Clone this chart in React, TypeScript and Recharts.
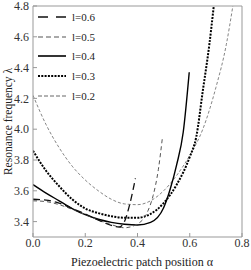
import React from 'react'
import { LineChart, Line, XAxis, YAxis, Legend, Label } from 'recharts'

// patch position alpha and resonance frequency lambda, one pair per patch length l
const alpha06 = [0, 0.05, 0.1, 0.15, 0.2, 0.25, 0.3, 0.33, 0.35, 0.37, 0.392]
const lambda06 = [3.545, 3.54, 3.52, 3.485, 3.45, 3.41, 3.375, 3.365, 3.4, 3.51, 3.68]

const alpha05 = [0, 0.05, 0.1, 0.15, 0.2, 0.25, 0.3, 0.35, 0.4, 0.44, 0.46, 0.48, 0.495]
const lambda05 = [3.535, 3.53, 3.51, 3.48, 3.445, 3.41, 3.38, 3.36, 3.385, 3.47, 3.57, 3.74, 3.94]

const alpha04 = [0, 0.05, 0.1, 0.15, 0.2, 0.25, 0.3, 0.35, 0.4, 0.45, 0.5, 0.525, 0.55, 0.575, 0.598]
const lambda04 = [3.64, 3.585, 3.535, 3.485, 3.445, 3.415, 3.395, 3.383, 3.378, 3.395, 3.49, 3.61, 3.77, 3.98, 4.37]

const alpha03 = [0, 0.05, 0.1, 0.15, 0.2, 0.25, 0.3, 0.35, 0.4, 0.45, 0.5, 0.55, 0.6, 0.625, 0.65, 0.675, 0.692]
const lambda03 = [3.86, 3.73, 3.63, 3.545, 3.485, 3.455, 3.435, 3.425, 3.425, 3.45, 3.52, 3.64, 3.82, 3.95, 4.25, 4.55, 4.8]

const alpha02 = [0, 0.05, 0.1, 0.15, 0.2, 0.25, 0.3, 0.35, 0.4, 0.45, 0.5, 0.55, 0.6, 0.65, 0.7, 0.74, 0.765]
const lambda02 = [4.22, 4.03, 3.88, 3.76, 3.67, 3.6, 3.545, 3.515, 3.51, 3.535, 3.6, 3.7, 3.83, 4.0, 4.27, 4.55, 4.8]

const xTicks = [0, 0.2, 0.4, 0.6, 0.8]
const xMinorTicks = [0.05, 0.1, 0.15, 0.25, 0.3, 0.35, 0.45, 0.5, 0.55, 0.65, 0.7, 0.75]
const yTicks = [3.4, 3.6, 3.8, 4.0, 4.2, 4.4, 4.6, 4.8]
const yMinorTicks = [3.3, 3.5, 3.7, 3.9, 4.1, 4.3, 4.5, 4.7]

const zip = (xs: number[], ys: number[]) => xs.map((a, i) => ({ a, v: ys[i] }))

const FONT = 'Liberation Serif, Times New Roman, serif'

const series = [
  { name: 'l=0.6', data: zip(alpha06, lambda06), stroke: '#111', width: 1.3, dash: '7 4', legendDash: '10 8' },
  { name: 'l=0.5', data: zip(alpha05, lambda05), stroke: '#555', width: 1, dash: '4 3', legendDash: '5 3' },
  { name: 'l=0.4', data: zip(alpha04, lambda04), stroke: '#000', width: 1.4, dash: undefined, legendDash: undefined },
  { name: 'l=0.3', data: zip(alpha03, lambda03), stroke: '#000', width: 2, dash: '2 1.3', legendDash: '2 1.3' },
  { name: 'l=0.2', data: zip(alpha02, lambda02), stroke: '#666', width: 0.8, dash: '3 2', legendDash: '4 2' },
]

const axisColor = '#999'
const X_DOMAIN = [0, 0.8]
const Y_DOMAIN = [3.3, 4.8]

function LegendBox() {
  return (
    <div style={{ fontFamily: FONT, fontSize: 11, color: '#222' }}>
      {series.map(s => (
        <div key={s.name} style={{ display: 'flex', alignItems: 'center', height: 19.7 }}>
          <svg width={28} height={6}>
            <line x1={0} y1={3} x2={28} y2={3} stroke={s.stroke} strokeWidth={s.width + 0.2}
              strokeDasharray={s.legendDash} />
          </svg>
          <span style={{ marginLeft: 6 }}>{s.name}</span>
        </div>
      ))}
    </div>
  )
}

function YTitle(props: any) {
  const vb = props.viewBox || { x: 0, y: 6, width: 33, height: 231 }
  const cx = vb.x + 8
  const cy = vb.y + vb.height / 2
  return (
    <text x={cx} y={cy} transform={`rotate(-90 ${cx} ${cy})`} textAnchor="middle"
      dominantBaseline="central" fontFamily={FONT} fontSize={11.5} fill="#222">
      Resonance frequency λ
    </text>
  )
}

function XTitle(props: any) {
  const vb = props.viewBox || { x: 33, y: 237, width: 209, height: 33 }
  const cx = vb.x + vb.width / 2 + 4.5
  const cy = vb.y + 25
  return (
    <text x={cx} y={cy} textAnchor="middle" dominantBaseline="central"
      fontFamily={FONT} fontSize={12} fill="#222">
      Piezoelectric patch position α
    </text>
  )
}

export default function App() {
  const tickStyle = { fontFamily: FONT, fontSize: 12, fill: '#333' }
  return (
    <div style={{ position: 'absolute', left: 0, top: 0, background: '#fff' }}>
      <LineChart width={251} height={270} margin={{ top: 6, right: 9, bottom: 0, left: 0 }}>
        <XAxis dataKey="a" type="number" domain={X_DOMAIN} ticks={xTicks} interval={0} height={33}
          allowDataOverflow tick={tickStyle} tickFormatter={(v: number) => v.toFixed(1)}
          stroke={axisColor} tickSize={-4} tickMargin={5.5}>
          <Label content={<XTitle />} />
        </XAxis>
        <XAxis xAxisId="minor" dataKey="a" type="number" domain={X_DOMAIN} ticks={xMinorTicks} interval={0}
          mirror tick={false} axisLine={false} stroke={axisColor} tickSize={2} />
        <XAxis xAxisId="top" orientation="top" dataKey="a" type="number" domain={X_DOMAIN} ticks={xTicks}
          interval={0} mirror tick={false} stroke={axisColor} tickSize={4} />
        <XAxis xAxisId="topMinor" orientation="top" dataKey="a" type="number" domain={X_DOMAIN}
          ticks={xMinorTicks} interval={0} mirror tick={false} axisLine={false} stroke={axisColor}
          tickSize={2} />
        <YAxis type="number" domain={Y_DOMAIN} ticks={yTicks} interval={0} width={33} allowDataOverflow
          tick={tickStyle} tickFormatter={(v: number) => v.toFixed(1)} stroke={axisColor}
          tickSize={-4} tickMargin={8}>
          <Label content={<YTitle />} />
        </YAxis>
        <YAxis yAxisId="minor" type="number" domain={Y_DOMAIN} ticks={yMinorTicks} interval={0} mirror
          tick={false} axisLine={false} stroke={axisColor} tickSize={2} />
        <YAxis yAxisId="right" orientation="right" type="number" domain={Y_DOMAIN} ticks={yTicks}
          interval={0} mirror tick={false} stroke={axisColor} tickSize={4} />
        <YAxis yAxisId="rightMinor" orientation="right" type="number" domain={Y_DOMAIN}
          ticks={yMinorTicks} interval={0} mirror tick={false} axisLine={false} stroke={axisColor}
          tickSize={2} />
        <Legend layout="vertical" verticalAlign="middle" align="center" content={<LegendBox />}
          wrapperStyle={{ left: 38, top: 7, width: 80 }} />
        {[...series].reverse().map(s => (
          <Line key={s.name} data={s.data} dataKey="v" name={s.name} type="monotone" dot={false}
            stroke={s.stroke} strokeWidth={s.width} strokeDasharray={s.dash}
            isAnimationActive={false} />
        ))}
      </LineChart>
    </div>
  )
}
